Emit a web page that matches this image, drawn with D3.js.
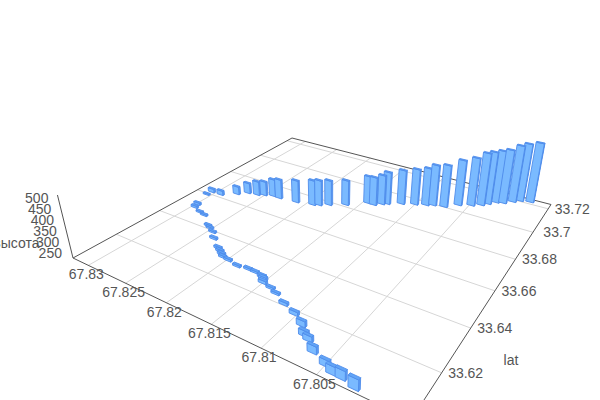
<!DOCTYPE html><html><head><meta charset="utf-8"><script src="https://cdn.jsdelivr.net/npm/d3@7"></script>
<style>html,body{margin:0;background:#fff}svg{display:block}text{font-family:"Liberation Sans",Arial,sans-serif;font-size:14px;fill:#555}</style></head><body><svg id="c" width="600" height="400"></svg>
<script>
const lonTicks=[67.83,67.825,67.82,67.815,67.81,67.805];
const latTicks=[33.62,33.64,33.66,33.68,33.7,33.72];
const heightTicks=[250,300,350,400,450,500];
const lon=[67.83058,67.83052,67.82926,67.82786,67.82698,67.82584,67.82514,67.82416,67.82331,67.8212,67.81934,67.81874,67.81787,67.81634,67.81452,67.81382,67.81315,67.8127,67.81139,67.8101,67.80903,67.80837,67.80722,67.80607,67.80487,67.804,67.8035,67.80286,67.80215,67.80137,67.80076,67.79972,
67.80212,67.80337,67.80418,67.80501,67.80652,67.80753,67.80813,67.80895,67.81023,67.8117,67.81313,67.81396,67.81501,67.81531,67.81559,67.81659,67.8174,67.81856,67.81987,67.82062,67.82106,67.82154,67.82203,67.82354,67.82448,67.82524,67.82572,67.82755,67.82838,67.82959,67.82982];
const lat=[33.6592,33.662,33.6622,33.6661,33.6691,33.6699,33.6712,33.6725,33.6724,33.6733,33.675,33.6761,33.6783,33.6818,33.6875,33.6875,33.6897,33.691,33.694,33.6963,33.6981,33.6995,33.7006,33.7048,33.7072,33.7095,33.7118,33.7146,33.7156,33.7186,33.7209,33.722,
33.6038,33.6049,33.605,33.6065,33.6087,33.6118,33.6128,33.6158,33.6186,33.6206,33.6233,33.6246,33.6255,33.627,33.6276,33.6285,33.6286,33.628,33.629,33.6294,33.6305,33.6316,33.6326,33.6363,33.6393,33.6408,33.6417,33.6465,33.6473,33.6491,33.6514];
const height=[237,249,253,271,284,302,303,319,329,344,357,359,357,357,370,373,380,394,404,412,420,436,443,460,473,495,495,494,502,517,522,532,
277,270,266,258,263,255,255,256,247,243,239,239,244,244,244,239,239,239,240,240,240,240,240,240,238,238,238,238,238,241,241];

const lonS=d3.scaleLinear().domain([67.7976,67.8322]).range([0,1]);
const latS=d3.scaleLinear().domain([33.6025,33.724]).range([0,1]);
const zS=d3.scaleLinear().domain([230,517]).range([0,1]);
const c={F:[411,420],L:[73,258],R:[551,204.5],B:[292,138]},V=[330,1300];
function solveH(){const[x0,y0]=c.F,[x1,y1]=c.L,[x3,y3]=c.R,[x2,y2]=c.B;
const dx1=x1-x2,dx2=x3-x2,sx=x0-x1+x2-x3,dy1=y1-y2,dy2=y3-y2,sy=y0-y1+y2-y3;
const d=dx1*dy2-dx2*dy1,g=(sx*dy2-dx2*sy)/d,h=(dx1*sy-sx*dy1)/d;
return[[x1-x0+g*x1,x3-x0+h*x3,x0],[y1-y0+g*y1,y3-y0+h*y3,y0],[g,h,1]];}
const H=solveH();
function inv3(m){const[a,b,c2]=m[0],[d,e,f]=m[1],[g,h,i]=m[2];const A=e*i-f*h,B=c2*h-b*i,C=b*f-c2*e,D=f*g-d*i,E=a*i-c2*g,F=c2*d-a*f,G=d*h-e*g,I=b*g-a*h,J=a*e-b*d;const det=a*A+b*D+c2*G;return[[A,B,C],[D,E,F],[G,I,J]].map(r=>r.map(v=>v/det));}
const Hi=inv3(H);
const camH=Hi.map(r=>r[0]*V[0]+r[1]*V[1]+r[2]),camU=camH[0]/camH[2],camV=camH[1]/camH[2];
const k=-63*(H[2][0]+H[2][2])/(V[1]-195);
function hom(u,v,w){const p=[0,1,2].map(i=>H[i][0]*u+H[i][1]*v+H[i][2]);p[0]+=w*k*V[0];p[1]+=w*k*V[1];p[2]+=w*k;return p;}
function proj(u,v,w){const p=hom(u,v,w);return[p[0]/p[2],p[1]/p[2]];}
const P=(lo,la,z)=>proj(lonS(lo),latS(la),zS(z));
const z0=230,[lo0,lo1]=lonS.domain(),[la0,la1]=latS.domain();
const svg=d3.select("#c");
const line=d3.line();
const gridCol="#d6d6d6",axisCol="#555";
function seg(a,b,col,sw){svg.append("path").attr("d",line([a,b])).attr("fill","none").attr("stroke",col).attr("stroke-width",sw);}
latTicks.forEach(t=>seg(P(lo0,t,z0),P(lo1,t,z0),gridCol,1));
lonTicks.forEach(t=>seg(P(t,la0,z0),P(t,la1,z0),gridCol,1));
const cF=P(lo0,la0,z0),cL=P(lo1,la0,z0),cR=P(lo0,la1,z0),cB=P(lo1,la1,z0);
[[cL,cF],[cF,cR],[cR,cB],[cB,cL]].forEach(e=>seg(e[0],e[1],axisCol,1));
seg(cL,P(lo1,la0,517),axisCol,1);
lonTicks.forEach(t=>{const p=P(t,la0,z0);svg.append("text").attr("x",p[0]-2).attr("y",p[1]+9).attr("dy","0.35em").attr("text-anchor","middle").text(t);});
latTicks.forEach(t=>{const p=P(lo0,t,z0);svg.append("text").attr("x",p[0]+24).attr("y",p[1]).attr("dy","0.35em").attr("text-anchor","middle").text(t);});
heightTicks.forEach(t=>{const p=P(lo1,la0,t);svg.append("text").attr("x",p[0]-10).attr("y",p[1]-1).attr("dy","0.35em").attr("text-anchor","end").text(t);});
svg.append("text").attr("x",39.5).attr("y",243).attr("dy","0.35em").attr("text-anchor","end").text("высота");
svg.append("text").attr("x",511).attr("y",360).attr("dy","0.35em").attr("text-anchor","middle").text("lat");
const bars=lon.map((d,i)=>({lon:d,lat:lat[i],z:height[i]}));
bars.forEach(b=>{b.depth=hom(lonS(b.lon),latS(b.lat),0)[2];});
bars.sort((a,b)=>b.depth-a.depth);
const hw=0.00042,hd=0.00045;
const faceCol={latMin:"#7abaff",lonSide:"#5b9df2",top:"#62a5f6"};
function faces(b){const x0=b.lon-hw,x1=b.lon+hw,y0=b.lat-hd,y1=b.lat+hd,z=b.z,g=P,out=[];
if(camU>lonS(x1))out.push({k:"lonSide",p:[g(x1,y0,z0),g(x1,y1,z0),g(x1,y1,z),g(x1,y0,z)]});
if(camU<lonS(x0))out.push({k:"lonSide",p:[g(x0,y1,z0),g(x0,y0,z0),g(x0,y0,z),g(x0,y1,z)]});
if(camV<latS(y0))out.push({k:"latMin",p:[g(x0,y0,z0),g(x1,y0,z0),g(x1,y0,z),g(x0,y0,z)]});
out.push({k:"top",p:[g(x0,y0,z),g(x1,y0,z),g(x1,y1,z),g(x0,y1,z)]});
return out;}
const gb=svg.selectAll("g.bar").data(bars).join("g").attr("class","bar");
gb.selectAll("path").data(faces).join("path").attr("d",f=>line(f.p)+"Z").attr("fill",f=>faceCol[f.k]).attr("stroke","#4f8ceb").attr("stroke-width",0.9).attr("stroke-linejoin","round");
</script></body></html>
